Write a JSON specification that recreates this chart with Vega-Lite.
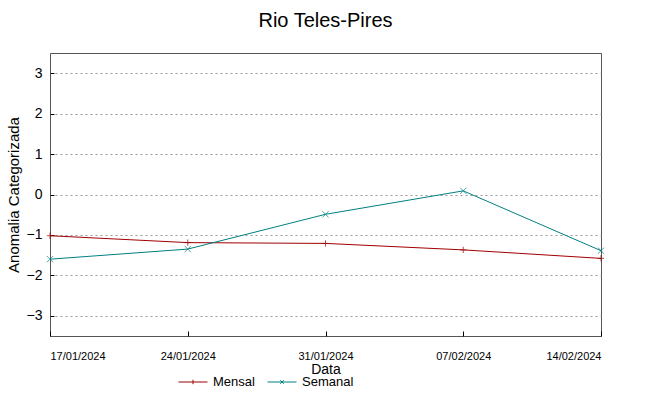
{
  "$schema": "https://vega.github.io/schema/vega-lite/v6.json",
  "width": 551,
  "height": 283,
  "autosize": {"type": "none"},
  "padding": {"left": 50, "top": 53, "right": 48, "bottom": 60},
  "background": "white",
  "title": {"text": "Rio Teles-Pires", "font": "Liberation Sans", "fontSize": 20, "fontWeight": "normal", "color": "black", "offset": 22, "anchor": "middle"},
  "config": {
    "view": {"stroke": "#555555", "strokeWidth": 1},
    "axis": {"labelFont": "Liberation Sans", "titleFont": "Liberation Sans", "labelColor": "black", "titleColor": "black", "domain": false, "tickColor": "black"}
  },
  "data": {"values": [
    {"date": "2024-01-17", "serie": "Mensal", "valor": -1.02},
    {"date": "2024-01-24", "serie": "Mensal", "valor": -1.19},
    {"date": "2024-01-31", "serie": "Mensal", "valor": -1.21},
    {"date": "2024-02-07", "serie": "Mensal", "valor": -1.37},
    {"date": "2024-02-14", "serie": "Mensal", "valor": -1.58},
    {"date": "2024-01-17", "serie": "Semanal", "valor": -1.6},
    {"date": "2024-01-24", "serie": "Semanal", "valor": -1.35},
    {"date": "2024-01-31", "serie": "Semanal", "valor": -0.49},
    {"date": "2024-02-07", "serie": "Semanal", "valor": 0.09},
    {"date": "2024-02-14", "serie": "Semanal", "valor": -1.39}
  ]},
  "encoding": {
    "x": {"field": "date", "type": "temporal",
      "scale": {"domain": [{"year": 2024, "month": 1, "date": 17}, {"year": 2024, "month": 2, "date": 14}]},
      "axis": {"title": "Data", "format": "%d/%m/%Y", "labelFontSize": 11, "titleFontSize": 14, "titleFontWeight": "normal", "titlePadding": 1, "grid": false, "tickSize": -5, "labelPadding": 19,
        "values": [{"year": 2024, "month": 1, "date": 17}, {"year": 2024, "month": 1, "date": 24}, {"year": 2024, "month": 1, "date": 31}, {"year": 2024, "month": 2, "date": 7}, {"year": 2024, "month": 2, "date": 14}]}},
    "y": {"field": "valor", "type": "quantitative",
      "scale": {"domain": [-3.5, 3.5], "nice": false},
      "axis": {"title": "Anomalia Categorizada", "titleFontSize": 15, "titleFontWeight": "normal", "titlePadding": 5, "labelFontSize": 14, "values": [-3, -2, -1, 0, 1, 2, 3], "grid": true, "gridColor": "#999999", "gridDash": [2, 3], "gridWidth": 1, "tickSize": -4, "labelPadding": 12}},
    "color": {"field": "serie", "type": "nominal",
      "scale": {"domain": ["Mensal", "Semanal"], "range": ["#a00000", "#008080"]},
      "legend": {"title": null, "orient": "none", "legendX": 128, "legendY": 314, "direction": "horizontal", "labelFont": "Liberation Sans", "labelFontSize": 13, "labelColor": "black", "symbolSize": 841, "symbolStrokeWidth": 1, "columnPadding": 10, "labelOffset": 5,
        "encode": {"symbols": {"update": {"shape": {"signal": "datum.value === 'Mensal' ? 'M-1,0L1,0M0,-0.15L0,0.15' : 'M-1,0L1,0M-0.12,-0.12L0.12,0.12M-0.12,0.12L0.12,-0.12'"}, "fill": {"value": "transparent"}}}}}}
  },
  "layer": [
    {"mark": {"type": "line", "strokeWidth": 1}},
    {"transform": [{"filter": "datum.serie === 'Mensal'"}],
      "mark": {"type": "point", "filled": false, "size": 40, "strokeWidth": 1, "shape": "M-1,0L1,0M0,-1L0,1"}},
    {"transform": [{"filter": "datum.serie === 'Semanal'"}],
      "mark": {"type": "point", "filled": false, "size": 40, "strokeWidth": 1, "shape": "M-1,-1L1,1M-1,1L1,-1"}}
  ]
}
